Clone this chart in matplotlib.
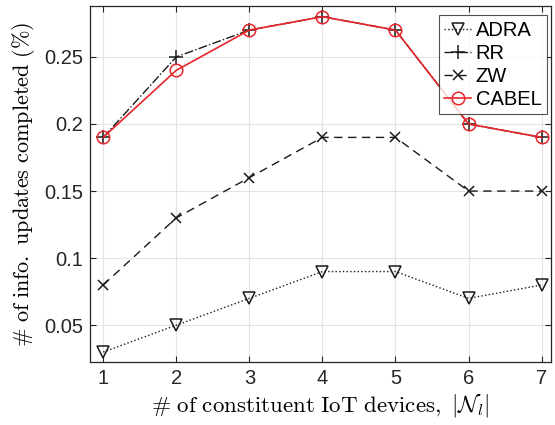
import matplotlib
matplotlib.use("Agg")
import matplotlib.pyplot as plt

x = [1, 2, 3, 4, 5, 6, 7]
adra = [0.03, 0.05, 0.07, 0.09, 0.09, 0.07, 0.08]
rr = [0.19, 0.25, 0.27, 0.28, 0.27, 0.20, 0.19]
zw = [0.08, 0.13, 0.16, 0.19, 0.19, 0.15, 0.15]
cabel = [0.19, 0.24, 0.27, 0.28, 0.27, 0.20, 0.19]
yticks = [0.05, 0.1, 0.15, 0.2, 0.25]
ytick_labels = ["0.05", "0.1", "0.15", "0.2", "0.25"]

plt.rcParams['font.family'] = ['Liberation Sans', 'DejaVu Sans']
plt.rcParams['mathtext.fontset'] = 'cm'

fig = plt.figure(figsize=(5.55, 4.25), dpi=100)
ax = fig.add_axes([0.162, 0.148, 0.831, 0.838])

k = '#1a1a1a'
ax.plot(x, adra, linestyle=':', color=k, lw=1, marker='v', ms=9, mfc='none', mew=1.1, label='ADRA')
ax.plot(x, rr, linestyle='-.', color=k, lw=1, marker='+', ms=10, mew=1.1, label='RR')
ax.plot(x, zw, linestyle=(0, (6, 4)), color=k, lw=1, marker='x', ms=7, mew=1.1, label='ZW')
ax.plot(x, cabel, linestyle='-', color='#e8252b', lw=1.2, marker='o', ms=9, mfc='none', mew=1.1, label='CABEL')

ax.set_xlim(0.818, 7.13)
ax.set_ylim(0.0225, 0.288)
ax.set_xticks(x)
ax.set_yticks(yticks)
ax.set_yticklabels(ytick_labels)
ax.tick_params(direction='in', top=True, right=True, labelsize=14.5, colors='#262626', length=4, width=0.8, pad=5)
ax.grid(True, color='#e3e3e3', lw=0.8)
ax.set_axisbelow(True)
for s in ax.spines.values():
    s.set_color('#262626')
    s.set_linewidth(0.9)

ax.set_xlabel(r'$\#\ \mathrm{of\ constituent\ IoT\ devices,}\ |\mathcal{N}_l|$', fontsize=16.5, labelpad=2)
ax.set_ylabel(r'$\#\ \mathrm{of\ info.\ updates\ completed\ (\%)}$', fontsize=16, labelpad=5)

leg = ax.legend(loc='upper right', bbox_to_anchor=(0.9913, 0.9747), fontsize=14.5, frameon=True,
                fancybox=False, edgecolor='#262626', borderpad=0.28, labelspacing=0.2,
                handlelength=1.3, handletextpad=0.25, borderaxespad=0)
leg.get_frame().set_linewidth(0.8)

fig.savefig('out.png', dpi=100)
